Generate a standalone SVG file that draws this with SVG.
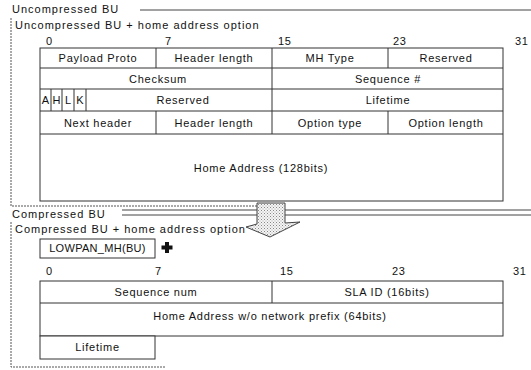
<svg xmlns="http://www.w3.org/2000/svg" width="531" height="370" viewBox="0 0 531 370">
<defs>
<pattern id="dots" width="3" height="3" patternUnits="userSpaceOnUse">
<rect width="3" height="3" fill="#f4f4f4"/>
<rect x="0" y="0" width="1" height="1" fill="#888"/>
<rect x="1.5" y="1.5" width="1" height="1" fill="#aaa"/>
</pattern>
<style>
text{font-family:"Liberation Sans",Arial,sans-serif;font-size:11px;letter-spacing:0.75px;fill:#111}
.h{letter-spacing:1px}
.c{text-anchor:middle}
.cell{fill:#fff;stroke:#333;stroke-width:1}
.div{stroke:#333;stroke-width:1}
.frame{fill:none;stroke:#555;stroke-width:1;stroke-dasharray:2 1}
.hl{stroke:#444;stroke-width:1}
</style>
</defs>
<rect width="531" height="370" fill="#fff"/>

<g id="frame-uncompressed">
<text class="h" x="12" y="13">Uncompressed BU</text>
<line class="hl" x1="140" y1="10" x2="531" y2="10"/>
<polyline class="frame" points="11,18 11,206 257,206"/>
<text class="h" x="15" y="29">Uncompressed BU + home address option</text>
<text x="46" y="45">0</text>
<text x="165" y="45">7</text>
<text x="278" y="45">15</text>
<text x="393" y="45">23</text>
<text x="515" y="45">31</text>
</g>

<g id="uncompressed-table">
<rect class="cell" x="40" y="48" width="463" height="153"/>
<line class="div" x1="40" y1="68" x2="503" y2="68"/>
<line class="div" x1="40" y1="89" x2="503" y2="89"/>
<line class="div" x1="40" y1="111" x2="503" y2="111"/>
<line class="div" x1="40" y1="134" x2="503" y2="134"/>
<line class="div" x1="156" y1="48" x2="156" y2="68"/>
<line class="div" x1="272" y1="48" x2="272" y2="134"/>
<line class="div" x1="388" y1="48" x2="388" y2="68"/>
<line class="div" x1="156" y1="111" x2="156" y2="134"/>
<line class="div" x1="388" y1="111" x2="388" y2="134"/>
<line class="div" x1="51" y1="89" x2="51" y2="111"/>
<line class="div" x1="62" y1="89" x2="62" y2="111"/>
<line class="div" x1="74" y1="89" x2="74" y2="111"/>
<line class="div" x1="86" y1="89" x2="86" y2="111"/>
<text class="c" x="98" y="62">Payload Proto</text>
<text class="c" x="214" y="62">Header length</text>
<text class="c" x="330" y="62">MH Type</text>
<text class="c" x="446" y="62">Reserved</text>
<text class="c" x="158" y="83">Checksum</text>
<text class="c" x="388" y="83">Sequence #</text>
<text class="c" x="45.5" y="104" style="letter-spacing:0">A</text>
<text class="c" x="56.5" y="104" style="letter-spacing:0">H</text>
<text class="c" x="68" y="104" style="letter-spacing:0">L</text>
<text class="c" x="80" y="104" style="letter-spacing:0">K</text>
<text class="c" x="183" y="104">Reserved</text>
<text class="c" x="388" y="104">Lifetime</text>
<text class="c" x="98" y="127">Next header</text>
<text class="c" x="214" y="127">Header length</text>
<text class="c" x="330" y="127">Option type</text>
<text class="c" x="446" y="127">Option length</text>
<text class="c" x="261" y="172">Home Address (128bits)</text>
</g>

<g id="frame-compressed">
<line class="hl" x1="122" y1="210" x2="531" y2="210"/>
<line class="hl" x1="122" y1="215" x2="531" y2="215"/>
<text class="h" x="12" y="218">Compressed BU</text>
<polyline class="frame" points="11,222 11,367 165,367"/>
<text class="h" x="15" y="233">Compressed BU + home address option</text>
<text x="46" y="275">0</text>
<text x="155" y="275">7</text>
<text x="280" y="275">15</text>
<text x="392" y="275">23</text>
<text x="513" y="275">31</text>
</g>

<g id="connectors">
<polygon points="257,203 285,203 285,223 300,222 270,237 246,227 257,224" fill="url(#dots)" stroke="#444" stroke-width="1"/>
</g>

<g id="lowpan-mh">
<rect class="cell" x="40" y="239" width="115" height="19"/>
<text class="c" x="97.5" y="252" style="letter-spacing:0.3px">LOWPAN_MH(BU)</text>
</g>

<g id="plus">
<polygon points="165,242 169,242 169,245.5 172.5,245.5 172.5,249.5 169,249.5 169,253 165,253 165,249.5 161.5,249.5 161.5,245.5 165,245.5" fill="#111"/>
</g>

<g id="compressed-table">
<rect class="cell" x="40" y="281" width="463" height="55"/>
<line class="div" x1="40" y1="303" x2="503" y2="303"/>
<line class="div" x1="272" y1="281" x2="272" y2="303"/>
<text class="c" x="156" y="296">Sequence num</text>
<text class="c" x="387" y="296">SLA ID (16bits)</text>
<text class="c" x="270" y="320">Home Address w/o network prefix (64bits)</text>
<rect class="cell" x="40" y="336" width="115" height="23"/>
<text class="c" x="97.5" y="351">Lifetime</text>
</g>
</svg>
